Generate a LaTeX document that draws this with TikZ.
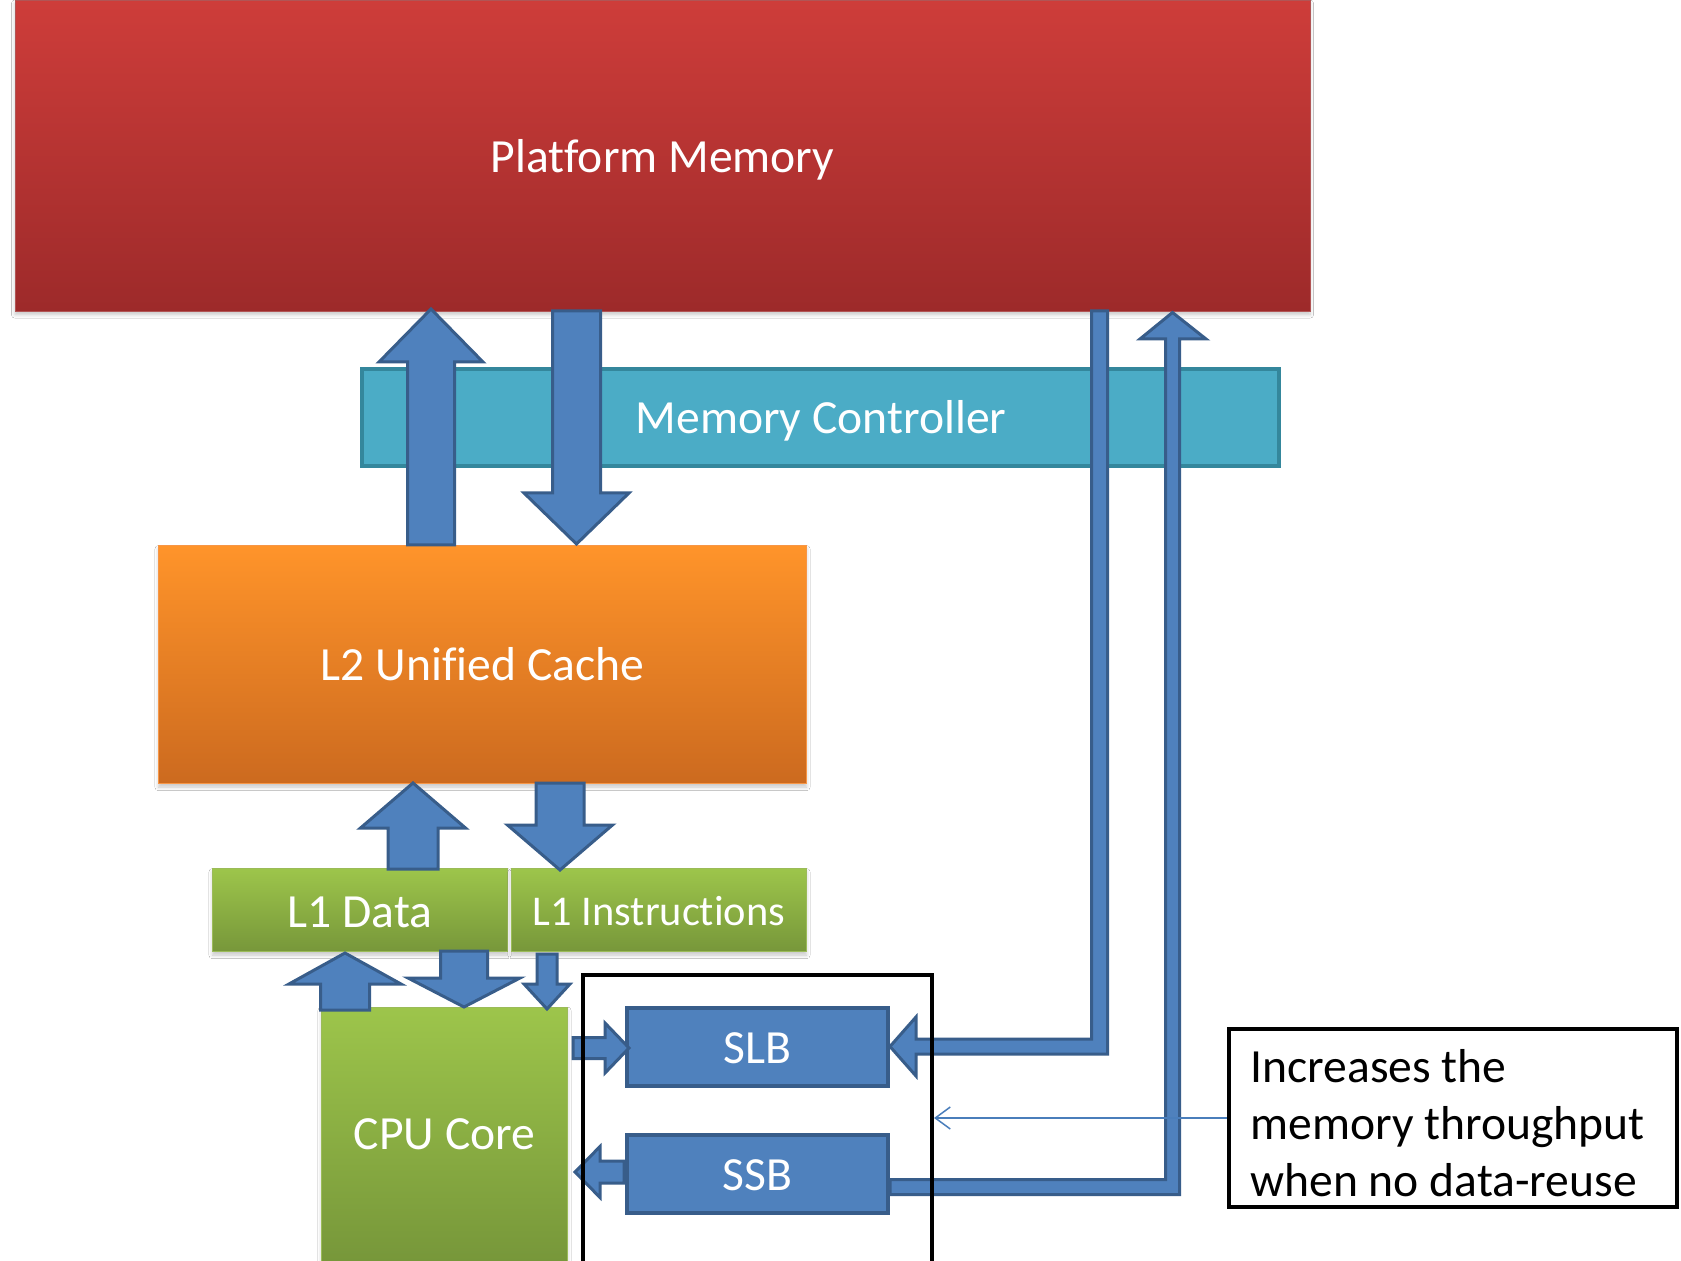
\documentclass[tikz,border=0pt]{standalone}
\usepackage{fontspec}
\setmainfont{Carlito}[Ligatures={NoCommon}]
\usetikzlibrary{arrows.meta,shadows.blur}
\definecolor{pmTop}{HTML}{CE3D3A}
\definecolor{pmBot}{HTML}{9D2A2A}
\definecolor{mcFill}{HTML}{4BACC6}
\definecolor{mcLine}{HTML}{34879C}
\definecolor{arFill}{HTML}{4F81BD}
\definecolor{arLine}{HTML}{385D8A}
\definecolor{l2Top}{HTML}{FF942A}
\definecolor{l2Bot}{HTML}{CC6A1F}
\definecolor{l2Line}{HTML}{F79646}
\definecolor{gnTop}{HTML}{9DC54B}
\definecolor{gnBot}{HTML}{77973A}
\definecolor{gnLine}{HTML}{9BBB59}
\definecolor{noteArrow}{HTML}{4A7EBB}
\newcommand\uparr[6]{\draw[barrow] ({#1-#4},#2) -- ({#1-#4},{#3+#6}) -- ({#1-#5},{#3+#6}) -- (#1,#3) -- ({#1+#5},{#3+#6}) -- ({#1+#4},{#3+#6}) -- ({#1+#4},#2) -- cycle;}
\newcommand\downarr[6]{\draw[barrow] ({#1-#4},#2) -- ({#1-#4},{#3-#6}) -- ({#1-#5},{#3-#6}) -- (#1,#3) -- ({#1+#5},{#3-#6}) -- ({#1+#4},{#3-#6}) -- ({#1+#4},#2) -- cycle;}
\newcommand\rightarr[6]{\draw[barrow] (#2,{#1-#4}) -- ({#3-#6},{#1-#4}) -- ({#3-#6},{#1-#5}) -- (#3,#1) -- ({#3-#6},{#1+#5}) -- ({#3-#6},{#1+#4}) -- (#2,{#1+#4}) -- cycle;}
\newcommand\leftarr[6]{\draw[barrow] (#2,{#1-#4}) -- ({#3+#6},{#1-#4}) -- ({#3+#6},{#1-#5}) -- (#3,#1) -- ({#3+#6},{#1+#5}) -- ({#3+#6},{#1+#4}) -- (#2,{#1+#4}) -- cycle;}
\tikzset{
  bigtext/.style={font=\fontsize{23.8}{28.5}\selectfont, text=white},
  boxshadow/.style={blur shadow={shadow xshift=0pt, shadow yshift=-1.8pt, shadow opacity=22, shadow blur steps=6, shadow blur radius=1.8pt}},
  pmbox/.style={rectangle, inner sep=0pt, top color=pmTop, bottom color=pmBot, draw=pmBot!80!white, line width=0.4pt, boxshadow},
  mcbox/.style={rectangle, inner sep=0pt, fill=mcFill, draw=mcLine, line width=2pt},
  l2box/.style={rectangle, inner sep=0pt, top color=l2Top, bottom color=l2Bot, draw=l2Line, line width=0.5pt, boxshadow},
  gnbox/.style={rectangle, inner sep=0pt, top color=gnTop, bottom color=gnBot, draw=gnLine, line width=0.5pt, boxshadow},
  bluebox/.style={rectangle, inner sep=0pt, fill=arFill, draw=arLine, line width=2pt},
  label/.style={bigtext, inner sep=0pt},
  barrow/.style={fill=arFill, draw=arLine, line width=1.5pt, line join=miter},
  groupbox/.style={rectangle, inner sep=0pt, draw=black, line width=2pt},
  notebox/.style={rectangle, inner sep=0pt, draw=black, line width=2pt, fill=white},
  notetext/.style={font=\fontsize{23.8}{28.5}\selectfont, text=black, align=left, inner sep=0pt},
  notearrow/.style={draw=noteArrow, line width=0.75pt, -{Straight Barb[length=7.5pt, width=11pt, line width=0.75pt]}}
}
\begin{document}
\begin{tikzpicture}[x=0.5pt,y=-0.5pt]
\useasboundingbox (0,0) rectangle (1681,1261);
\clip (0,0) rectangle (1681,1261);
\fill[white] (0,0) rectangle (1681,1261);

% boxes
\node[mcbox, minimum width=458.5pt, minimum height=48.5pt] (mc) at (820.5,417.5) {};
\node[label, yshift=-1.5pt] (mctext) at (821,418) {Memory Controller};
\node[pmbox, minimum width=647.5pt, minimum height=155.5pt] (pm) at (662.5,155.5) {};
\node[label, yshift=-2pt] (pmtext) at (pm) {Platform Memory};
\node[l2box, minimum width=324pt, minimum height=119pt] (l2) at (482.5,664.5) {};
\node[label] (l2text) at (l2) {L2 Unified Cache};
\node[gnbox, minimum width=147.5pt, minimum height=41.5pt] (l1d) at (360,910) {};
\node[label, yshift=-1pt] (l1dtext) at (l1d) {L1 Data};
\node[gnbox, minimum width=147.5pt, minimum height=41.5pt] (l1i) at (659,910) {};
\node[label, yshift=-0.5pt, font=\fontsize{21.2}{25}\selectfont] (l1itext) at (l1i) {L1 Instructions};
\node[gnbox, minimum width=123pt, minimum height=127pt] (cpu) at (444.5,1134) {};
\node[label] (cputext) at (cpu) {CPU Core};
\node[bluebox, minimum width=130.5pt, minimum height=39pt] (slb) at (757.5,1047) {};
\node[label, yshift=-0.5pt] (slbtext) at (slb) {SLB};
\node[bluebox, minimum width=130.5pt, minimum height=39pt] (ssb) at (757.5,1174) {};
\node[label, yshift=-0.5pt] (ssbtext) at (ssb) {SSB};

% block arrows
\uparr{431}{545}{309}{23.5}{52}{53}
\downarr{576.5}{311}{544}{24}{52.5}{51}
\uparr{413}{869}{783}{25}{52.5}{45}
\downarr{560}{783}{870}{24}{52.5}{45}
\uparr{345}{1010}{953}{24.5}{56}{31}
\downarr{464}{951}{1007}{23.5}{56}{29}
\downarr{547}{954}{1009}{10}{23}{25}
\rightarr{1048}{573}{629}{10.5}{25}{24}
\leftarr{1172}{624}{575}{11}{25.5}{25}

% elbow arrows to and from platform memory
\draw[barrow] (1091.5,311) -- (1107.5,311) -- (1107.5,1054) -- (916,1054) -- (916,1076) -- (890,1046.5) -- (916,1017) -- (916,1039) -- (1091.5,1039) -- cycle;
\draw[barrow] (890,1179.5) -- (1165.5,1179.5) -- (1165.5,339) -- (1140,339) -- (1172.5,312.5) -- (1206,339) -- (1179.5,339) -- (1179.5,1194.5) -- (890,1194.5) -- cycle;

% group box around SLB/SSB (cut off at the bottom)
\node[groupbox, minimum width=174.5pt, minimum height=200pt] (grp) at (757.5,1175) {};

% note
\node[notebox, minimum width=224pt, minimum height=89pt] (note) at (1453,1118) {};
\node[notetext, anchor=west] (notetxt) at (1250,1123) {Increases the\\memory throughput\\when no data-reuse};
\draw[notearrow] (note.west) -- (note.west -| grp.east);
\end{tikzpicture}
\end{document}
